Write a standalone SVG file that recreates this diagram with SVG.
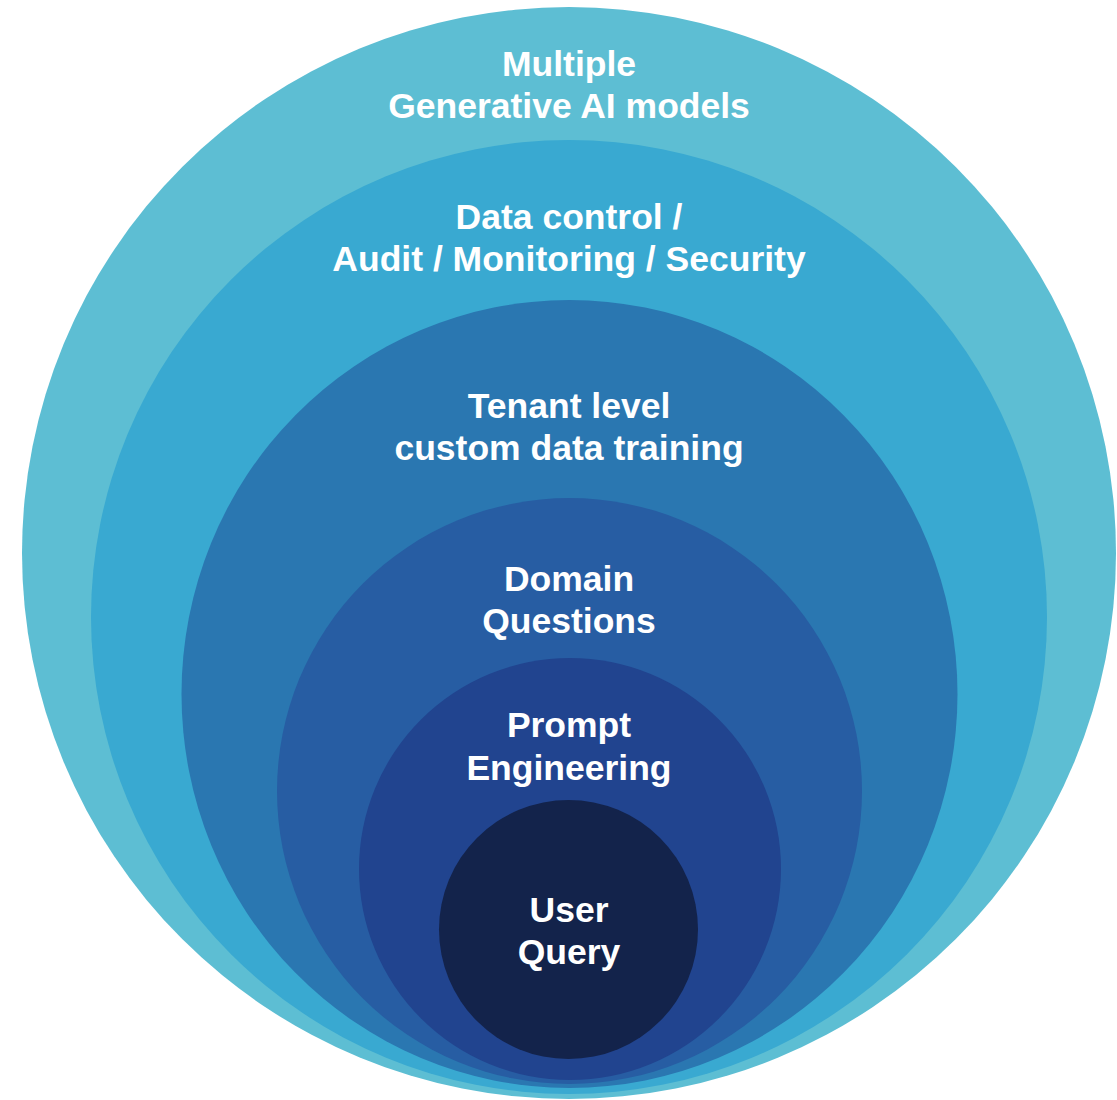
<svg xmlns="http://www.w3.org/2000/svg" width="1117" height="1100" viewBox="0 0 1117 1100">
<style>
text{font-family:"Liberation Sans",Arial,sans-serif;font-weight:bold;font-size:35.5px;fill:#ffffff;text-anchor:middle}
</style>
<rect width="1117" height="1100" fill="#ffffff"/>
<g id="layer-models"><ellipse cx="569" cy="553" rx="547" ry="546" fill="#5DBED3"/>
<text x="569" y="76">Multiple</text><text x="569" y="118">Generative AI models</text></g>
<g id="layer-security"><ellipse cx="569" cy="617" rx="478" ry="477" fill="#39A9D1"/>
<text x="569" y="229">Data control /</text><text x="569" y="271">Audit / Monitoring / Security</text></g>
<g id="layer-tenant"><ellipse cx="569.5" cy="694" rx="388" ry="394" fill="#2A77B1"/>
<text x="569" y="418">Tenant level</text><text x="569" y="460">custom data training</text></g>
<g id="layer-domain"><ellipse cx="569.5" cy="791" rx="292.5" ry="293" fill="#275DA3"/>
<text x="569" y="591">Domain</text><text x="569" y="633">Questions</text></g>
<g id="layer-prompt"><ellipse cx="570" cy="869" rx="211" ry="211" fill="#21448F"/>
<text x="569" y="737">Prompt</text><text x="569" y="780">Engineering</text></g>
<g id="layer-query"><ellipse cx="568.5" cy="929.5" rx="129.5" ry="129.5" fill="#13234B"/>
<text x="569" y="922">User</text><text x="569" y="964">Query</text></g>
<g id="connectors"/>
</svg>
